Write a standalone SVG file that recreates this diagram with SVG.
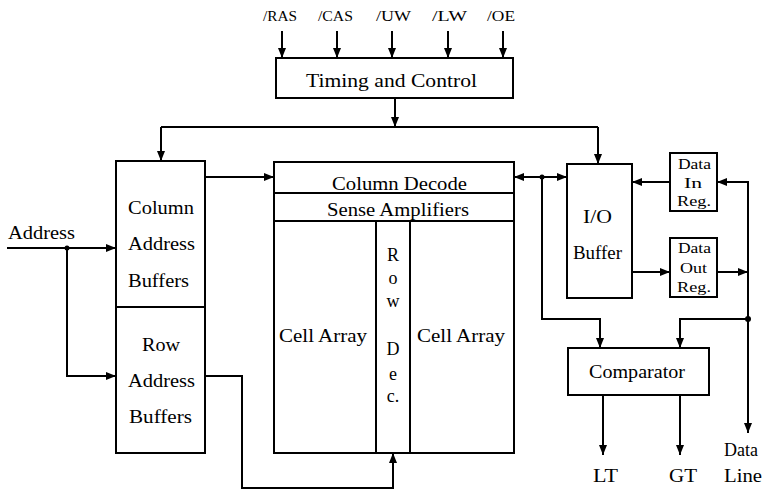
<svg xmlns="http://www.w3.org/2000/svg" width="763" height="490" viewBox="0 0 763 490">
<defs>
<marker id="ah" markerUnits="userSpaceOnUse" markerWidth="11" markerHeight="9" refX="10" refY="4" orient="auto-start-reverse">
<path d="M0,0 L10,4 L0,8 z" fill="#000"/>
</marker>
</defs>
<style>
.box{fill:#fff;stroke:#000;stroke-width:2}
.ln{fill:none;stroke:#000;stroke-width:2}
.ar{fill:none;stroke:#000;stroke-width:2;marker-end:url(#ah)}
.ba{fill:none;stroke:#000;stroke-width:2;marker-end:url(#ah);marker-start:url(#ah)}
text{font-family:"Liberation Serif","Times New Roman",serif;font-size:18px;fill:#000}
.s{font-size:15px}
.c{text-anchor:middle}
</style>
<rect width="763" height="490" fill="#fff"/>

<g id="signals">
<text x="263" y="21" class="s" textLength="34" lengthAdjust="spacingAndGlyphs">/RAS</text>
<text x="318" y="21" class="s" textLength="35" lengthAdjust="spacingAndGlyphs">/CAS</text>
<text x="376" y="21" class="s" textLength="35" lengthAdjust="spacingAndGlyphs">/UW</text>
<text x="432" y="21" class="s" textLength="35" lengthAdjust="spacingAndGlyphs">/LW</text>
<text x="487" y="21" class="s" textLength="28" lengthAdjust="spacingAndGlyphs">/OE</text>
</g>

<g id="timing">
<rect class="box" x="276" y="58" width="237" height="40"/>
<text x="306" y="87" textLength="171" lengthAdjust="spacingAndGlyphs">Timing and Control</text>
</g>

<g id="colbuf">
<rect class="box" x="116" y="161" width="89" height="146"/>
<text x="128" y="214" textLength="66" lengthAdjust="spacingAndGlyphs">Column</text>
<text x="128" y="250" textLength="67" lengthAdjust="spacingAndGlyphs">Address</text>
<text x="128" y="287" textLength="61" lengthAdjust="spacingAndGlyphs">Buffers</text>
</g>

<g id="rowbuf">
<rect class="box" x="116" y="307" width="89" height="146"/>
<text x="142" y="351" textLength="38" lengthAdjust="spacingAndGlyphs">Row</text>
<text x="128" y="387" textLength="67" lengthAdjust="spacingAndGlyphs">Address</text>
<text x="129" y="423" textLength="63" lengthAdjust="spacingAndGlyphs">Buffers</text>
</g>

<g id="address">
<text x="8" y="239" textLength="67" lengthAdjust="spacingAndGlyphs">Address</text>
</g>

<g id="memory">
<rect class="box" x="274" y="162" width="240" height="291"/>
<line class="ln" x1="274" y1="193" x2="514" y2="193"/>
<line class="ln" x1="274" y1="221" x2="514" y2="221"/>
<line class="ln" x1="376" y1="221" x2="376" y2="453"/>
<line class="ln" x1="410" y1="221" x2="410" y2="453"/>
<text x="332" y="190" textLength="135" lengthAdjust="spacingAndGlyphs">Column Decode</text>
<text x="327" y="216" textLength="142" lengthAdjust="spacingAndGlyphs">Sense Amplifiers</text>
<text x="279" y="342" textLength="88" lengthAdjust="spacingAndGlyphs">Cell Array</text>
<text x="417" y="342" textLength="88" lengthAdjust="spacingAndGlyphs">Cell Array</text>
<text x="393" y="261" class="c">R</text>
<text x="393" y="284" class="c">o</text>
<text x="393" y="307" class="c">w</text>
<text x="393" y="355" class="c">D</text>
<text x="393" y="380" class="c">e</text>
<text x="393" y="402" class="c">c.</text>
</g>

<g id="iobuf">
<rect class="box" x="567" y="164" width="65" height="134"/>
<text x="583" y="223" textLength="29" lengthAdjust="spacingAndGlyphs">I/O</text>
<text x="573" y="259" textLength="49" lengthAdjust="spacingAndGlyphs">Buffer</text>
</g>

<g id="datain">
<rect class="box" x="670" y="153" width="47" height="58"/>
<text x="678" y="169" class="s" textLength="33" lengthAdjust="spacingAndGlyphs">Data</text>
<text x="684" y="188" class="s" textLength="18" lengthAdjust="spacingAndGlyphs">In</text>
<text x="677" y="206" class="s" textLength="34" lengthAdjust="spacingAndGlyphs">Reg.</text>
</g>

<g id="dataout">
<rect class="box" x="670" y="238" width="47" height="59"/>
<text x="678" y="253" class="s" textLength="33" lengthAdjust="spacingAndGlyphs">Data</text>
<text x="680" y="273" class="s" textLength="27" lengthAdjust="spacingAndGlyphs">Out</text>
<text x="677" y="292" class="s" textLength="34" lengthAdjust="spacingAndGlyphs">Reg.</text>
</g>

<g id="comparator">
<rect class="box" x="568" y="348" width="141" height="47"/>
<text x="589" y="378" textLength="96" lengthAdjust="spacingAndGlyphs">Comparator</text>
</g>

<g id="outputs">
<text x="593" y="482" textLength="25" lengthAdjust="spacingAndGlyphs">LT</text>
<text x="669" y="482" textLength="28" lengthAdjust="spacingAndGlyphs">GT</text>
<text x="724" y="456" textLength="34" lengthAdjust="spacingAndGlyphs">Data</text>
<text x="724" y="482" textLength="38" lengthAdjust="spacingAndGlyphs">Line</text>
</g>

<g id="connectors">
<line class="ar" x1="282" y1="31" x2="282" y2="58"/>
<line class="ar" x1="337" y1="31" x2="337" y2="58"/>
<line class="ar" x1="392" y1="31" x2="392" y2="58"/>
<line class="ar" x1="448" y1="31" x2="448" y2="58"/>
<line class="ar" x1="503" y1="31" x2="503" y2="58"/>
<line class="ar" x1="395" y1="98" x2="395" y2="127"/>
<path class="ln" d="M161,127 H598"/>
<line class="ar" x1="161" y1="127" x2="161" y2="161"/>
<line class="ar" x1="598" y1="127" x2="598" y2="164"/>
<line class="ar" x1="205" y1="177" x2="274" y2="177"/>
<line class="ar" x1="7" y1="248" x2="116" y2="248"/>
<path class="ar" d="M67,248 V376 H116"/>
<circle cx="67" cy="248" r="2.5"/>
<path class="ar" d="M205,376 H242 V488 H393 V453"/>
<line class="ba" x1="514" y1="177" x2="567" y2="177"/>
<path class="ar" d="M542,177 V319 H600 V348"/>
<circle cx="542" cy="177" r="2.5"/>
<line class="ar" x1="670" y1="182" x2="632" y2="182"/>
<path class="ar" d="M748,433 V182 H717"/>
<line class="ar" x1="748" y1="319" x2="748" y2="433"/>
<line class="ar" x1="632" y1="272" x2="670" y2="272"/>
<line class="ar" x1="717" y1="272" x2="748" y2="272"/>
<path class="ar" d="M748,319 H680 V348"/>
<circle cx="748" cy="319" r="3"/>
<line class="ar" x1="603" y1="395" x2="603" y2="455"/>
<line class="ar" x1="680" y1="395" x2="680" y2="455"/>
</g>
</svg>
